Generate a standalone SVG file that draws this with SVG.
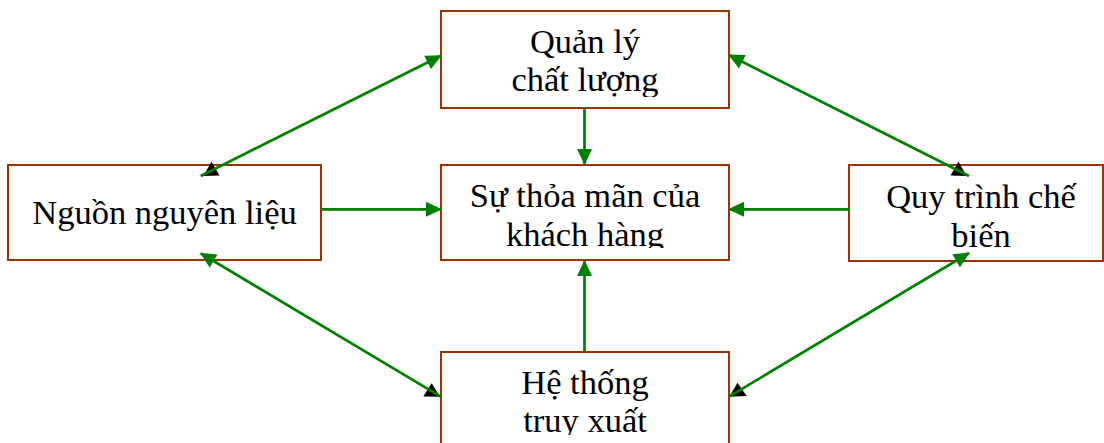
<svg xmlns="http://www.w3.org/2000/svg" width="1104" height="443" viewBox="0 0 1104 443">
<style>
.box{fill:#ffffff;stroke:#993300;stroke-width:2}
.t{font-family:"Liberation Serif","Times New Roman",serif;font-size:34.5px;fill:#000000;text-anchor:middle}
.c{stroke:#008000;stroke-width:2.7;fill:none;marker-end:url(#ah)}
.k{fill:#000000}
</style>
<defs>
<marker id="ah" markerUnits="userSpaceOnUse" markerWidth="16" markerHeight="15" refX="15" refY="7.5" orient="auto" overflow="visible">
<path d="M0,0 L16,7.5 L0,15 Z" fill="#008000"/>
</marker>
<clipPath id="cpTop"><rect x="441" y="11" width="288" height="86"/></clipPath>
<clipPath id="cpCenter"><rect x="441" y="165" width="288" height="83"/></clipPath>
<clipPath id="cpRight"><rect x="849" y="165" width="255" height="83"/></clipPath>
<clipPath id="cpBottom"><rect x="441" y="352" width="288" height="83"/></clipPath>
</defs>
<g id="node-quan-ly">
<rect class="box" x="441" y="11" width="288" height="97"/>
<g clip-path="url(#cpTop)">
<text class="t" x="585" y="53">Quản lý</text>
<text class="t" x="585" y="91">chất lượng</text>
</g>
</g>
<g id="node-nguon">
<rect class="box" x="8" y="165" width="313" height="95"/>
<text class="t" x="164.5" y="224">Nguồn nguyên liệu</text>
</g>
<g id="node-su-thoa-man">
<rect class="box" x="441" y="165" width="288" height="95"/>
<g clip-path="url(#cpCenter)">
<text class="t" x="585" y="207">Sự thỏa mãn của</text>
<text class="t" x="585" y="245.5">khách hàng</text>
</g>
</g>
<g id="node-quy-trinh">
<rect class="box" x="849" y="165" width="254" height="96"/>
<g clip-path="url(#cpRight)">
<text class="t" x="981" y="208">Quy trình chế</text>
<text class="t" x="981" y="246.5">biến</text>
</g>
</g>
<g id="node-he-thong">
<rect class="box" x="441" y="352" width="288" height="100"/>
<g clip-path="url(#cpBottom)">
<text class="t" x="585" y="393.5">Hệ thống</text>
<text class="t" x="585" y="432">truy xuất</text>
</g>
</g>
<g id="connectors">
<polygon class="k" points="211.5,161.7 203.3,176 219.5,175.5"/>
<polygon class="k" points="958.5,161.7 950.5,175.5 966.7,176"/>
<polygon class="k" points="431.7,383.3 423.3,396.5 440,396.7"/>
<polygon class="k" points="737.5,382.7 729.3,396.7 746.7,396"/>
<line class="c" x1="200.7" y1="176" x2="441" y2="55.7"/>
<line class="c" x1="969" y1="176" x2="729" y2="55"/>
<line class="c" x1="440.7" y1="396.7" x2="200.7" y2="253.3"/>
<line class="c" x1="729" y1="396.7" x2="969" y2="253"/>
<line class="c" x1="584.5" y1="108" x2="584.5" y2="164"/>
<line class="c" x1="321" y1="209.3" x2="441" y2="209.3"/>
<line class="c" x1="849" y1="209.3" x2="729" y2="209.3"/>
<line class="c" x1="584.5" y1="352" x2="584.5" y2="261"/>
</g>
</svg>
